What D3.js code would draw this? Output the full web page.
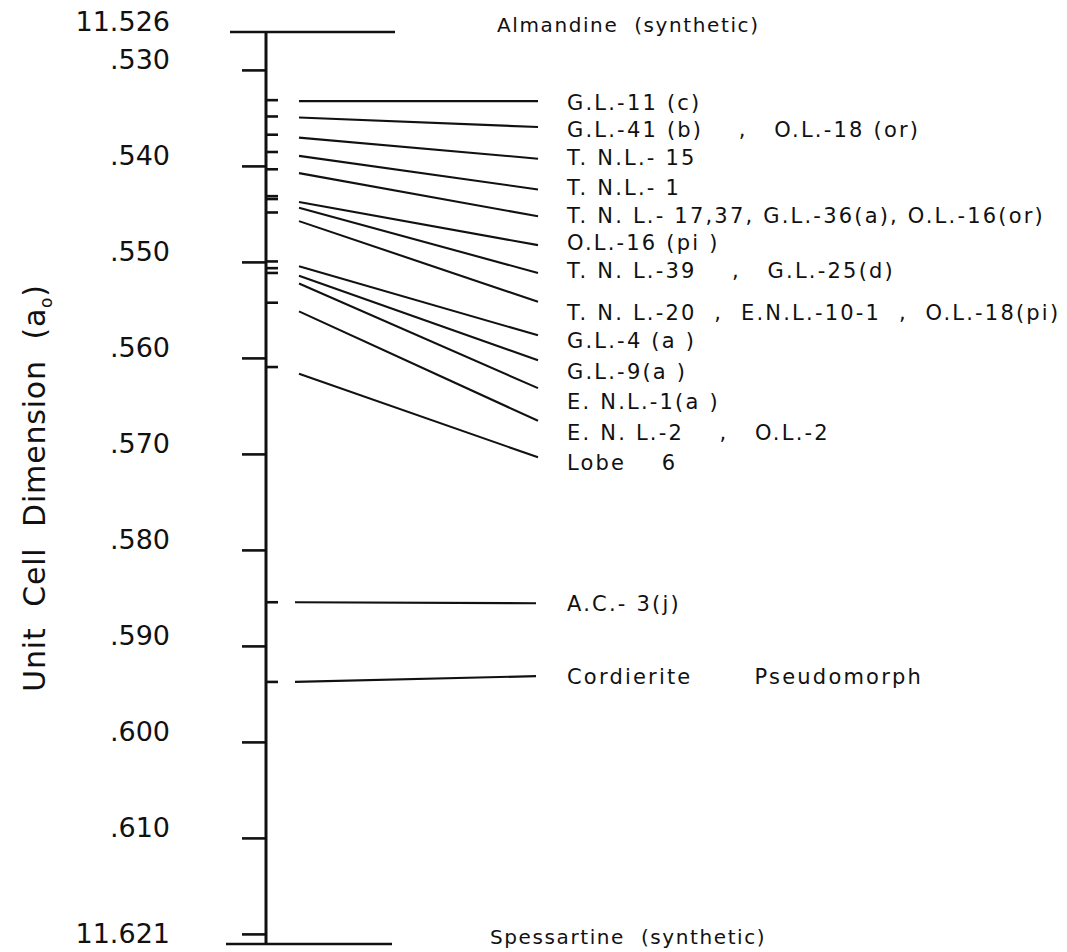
<!DOCTYPE html>
<html>
<head>
<meta charset="utf-8">
<script src="https://cdn.jsdelivr.net/npm/d3@7"></script>
<style>
  html, body { margin: 0; padding: 0; background: #fff; }
  svg { display: block; }
  text { fill: #111; font-family: "DejaVu Sans", sans-serif; }
</style>
</head>
<body>
<svg id="chart" width="1067" height="952"></svg>
<script>
// Unit cell edge (Å) of garnets, plotted between the almandine and spessartine end members.
const endMembers = ["Almandine  (synthetic)", "Spessartine  (synthetic)"];
const endValues = [11.526, 11.621];

// Major scale divisions and their printed labels.
const majorTicks = [11.530, 11.540, 11.550, 11.560, 11.570, 11.580, 11.590, 11.600, 11.610, 11.620];
const tickLabels = ["11.526", ".530", ".540", ".550", ".560", ".570", ".580", ".590", ".600", ".610", "11.621"];
const tickLabelValues = [11.526, 11.530, 11.540, 11.550, 11.560, 11.570, 11.580, 11.590, 11.600, 11.610, 11.621];

// Samples whose leader lines fan out to the label column.
const samples = [
  "G.L.-11 (c)",
  "G.L.-41 (b)    ,   O.L.-18 (or)",
  "T. N.L.- 15",
  "T. N.L.- 1",
  "T. N. L.- 17,37, G.L.-36(a), O.L.-16(or)",
  "O.L.-16 (pi )",
  "T. N. L.-39    ,   G.L.-25(d)",
  "T. N. L.-20  ,  E.N.L.-10-1  ,  O.L.-18(pi)",
  "G.L.-4 (a )",
  "G.L.-9(a )",
  "E. N.L.-1(a )",
  "E. N. L.-2    ,   O.L.-2",
  "Lobe    6"
];
// measured cell edge, marked on the scale
const cellEdge = [11.5331, 11.5348, 11.5367, 11.5385, 11.5403, 11.5431, 11.5434, 11.5448,
                  11.5499, 11.5506, 11.5511, 11.5542, 11.5609];
// leader line: value at its scale end and at its label end
const leaderFrom = [11.5332, 11.5349, 11.5370, 11.5389, 11.5407, 11.5437, 11.5443, 11.5457,
                    11.5504, 11.5514, 11.5522, 11.5551, 11.5616];
const leaderTo = [11.5332, 11.5359, 11.5392, 11.5424, 11.5452, 11.5482, 11.5511, 11.5541,
                  11.5576, 11.5602, 11.5631, 11.5665, 11.5703];
// vertical place of each label in the label column
const labelAt = [11.5333, 11.5362, 11.5391, 11.5422, 11.5451, 11.5479, 11.5508, 11.5552,
                 11.5581, 11.5614, 11.5645, 11.5677, 11.5708];

// Samples drawn with straight (level) leaders.
const levelSamples = ["A.C.- 3(j)", "Cordierite       Pseudomorph"];
const levelEdge = [11.5854, 11.5937];
const levelTo = [11.5855, 11.5931];

const svg = d3.select("#chart");
const y = d3.scaleLinear().domain(endValues).range([32, 944]);

const axisX = 266;
const leaderX0 = 299, leaderX1 = 538, labelX = 567;
const labelFont = 21, labelSpacing = 2.2;

// main vertical scale
svg.append("line")
  .attr("x1", axisX).attr("x2", axisX)
  .attr("y1", y(endValues[0])).attr("y2", y(endValues[1]))
  .attr("stroke", "#111").attr("stroke-width", 3);

// end-member bars
const endBars = [[230, 395], [226, 392]];
svg.selectAll("line.end").data(endValues).join("line")
  .attr("class", "end")
  .attr("x1", (d, i) => endBars[i][0]).attr("x2", (d, i) => endBars[i][1])
  .attr("y1", d => y(d)).attr("y2", d => y(d))
  .attr("stroke", "#111").attr("stroke-width", 2.6);

svg.selectAll("text.end").data(endMembers).join("text")
  .attr("class", "end")
  .attr("x", (d, i) => i === 0 ? 497 : 490)
  .attr("y", (d, i) => y(endValues[i]))
  .attr("font-size", 20).attr("letter-spacing", 1.6)
  .attr("xml:space", "preserve").style("white-space", "pre")
  .text(d => d);

// major ticks on the left of the scale
svg.selectAll("line.major").data(majorTicks).join("line")
  .attr("class", "major")
  .attr("x1", 242).attr("x2", axisX)
  .attr("y1", d => y(d)).attr("y2", d => y(d))
  .attr("stroke", "#111").attr("stroke-width", 2.6);

svg.selectAll("text.tick").data(tickLabels).join("text")
  .attr("class", "tick")
  .attr("x", 170)
  .attr("y", (d, i) => y(tickLabelValues[i]) - 1)
  .attr("text-anchor", "end")
  .attr("font-size", 27)
  .text(d => d);

// sample marks on the right of the scale
svg.selectAll("line.mark").data(cellEdge.concat(levelEdge)).join("line")
  .attr("class", "mark")
  .attr("x1", axisX).attr("x2", 278)
  .attr("y1", d => y(d)).attr("y2", d => y(d))
  .attr("stroke", "#111").attr("stroke-width", 2.6);

// leader lines
svg.selectAll("line.leader").data(samples).join("line")
  .attr("class", "leader")
  .attr("x1", leaderX0).attr("x2", leaderX1)
  .attr("y1", (d, i) => y(leaderFrom[i])).attr("y2", (d, i) => y(leaderTo[i]))
  .attr("stroke", "#111").attr("stroke-width", 2.1);

svg.selectAll("text.sample").data(samples).join("text")
  .attr("class", "sample")
  .attr("x", labelX)
  .attr("y", (d, i) => y(labelAt[i]) + 7.5)
  .attr("font-size", labelFont).attr("letter-spacing", labelSpacing)
  .attr("xml:space", "preserve").style("white-space", "pre")
  .text(d => d);

svg.selectAll("line.level").data(levelSamples).join("line")
  .attr("class", "level")
  .attr("x1", leaderX0 - 4).attr("x2", leaderX1 - 2)
  .attr("y1", (d, i) => y(levelEdge[i])).attr("y2", (d, i) => y(levelTo[i]))
  .attr("stroke", "#111").attr("stroke-width", 2.1);

svg.selectAll("text.level").data(levelSamples).join("text")
  .attr("class", "level")
  .attr("x", labelX)
  .attr("y", (d, i) => y(levelTo[i]) + 7.5)
  .attr("font-size", labelFont).attr("letter-spacing", labelSpacing)
  .attr("xml:space", "preserve").style("white-space", "pre")
  .text(d => d);

// axis title
const title = svg.append("text")
  .attr("transform", `translate(45, ${(y(endValues[0]) + y(endValues[1])) / 2}) rotate(-90)`)
  .attr("text-anchor", "middle")
  .attr("font-size", 30).attr("letter-spacing", 0.8)
  .attr("xml:space", "preserve").style("white-space", "pre");
title.append("tspan").text("Unit  Cell  Dimension  (a");
title.append("tspan").attr("font-size", 17).attr("dy", 7).text("o");
title.append("tspan").attr("dy", -7).text(")");
</script>
</body>
</html>
